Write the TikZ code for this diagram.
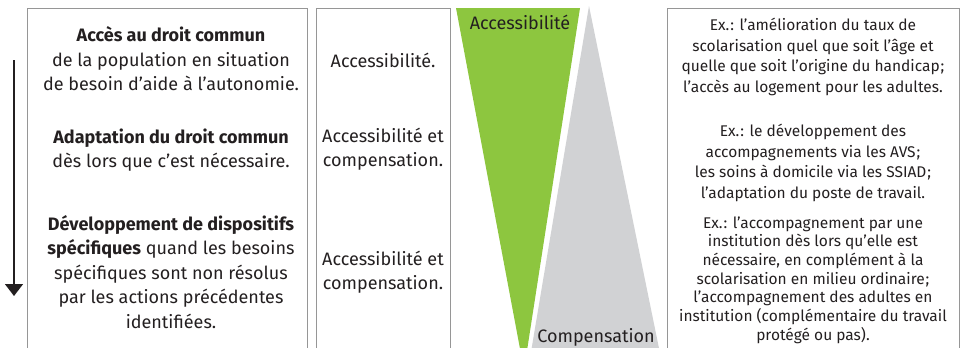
\documentclass[tikz,border=0pt]{standalone}
\usepackage{fontspec}
\setmainfont{Fira Sans}
\usetikzlibrary{arrows.meta}
\definecolor{accgreen}{RGB}{141,198,63}
\definecolor{compgray}{RGB}{209,210,212}
\definecolor{framegray}{RGB}{150,150,150}
\definecolor{inkgray}{RGB}{35,31,32}

\begin{document}
\begin{tikzpicture}[x=1pt,y=-1pt]
		  \tikzset{
			frame/.style={draw=framegray,line width=0.8pt},
			bigtext/.style={text=inkgray,align=center,inner sep=0pt,
			  font=\fontsize{18}{24.5}\selectfont},
			smalltext/.style={text=inkgray,align=center,inner sep=0pt,
			  font=\fontsize{15.5}{20.8}\selectfont},
			flow/.style={draw=inkgray,line width=1.5pt,-{Triangle[width=18pt,length=12pt]}},
		  }
		  \useasboundingbox (0,0) rectangle (962,348);
		  %FRAMES
		  \draw[frame] (27,348) -- (27,8) -- (307,8) -- (307,348);
		  \draw[frame] (316,348) -- (316,8) -- (450,8) -- (450,348);
		  \draw[frame] (667,348) -- (667,8) -- (959,8) -- (959,348);
		  %ARROW
		  \coordinate (top) at (14,60);
		  \coordinate (bot) at (14,296);
		  \draw[flow] (top) -- (bot);
		  %TRIANGLE GREEN
		  \fill[accgreen] (456,8) -- (580,8) -- (524,370) -- cycle;
		  \node[bigtext] (acc) at (520,22) {Accessibilité};
		  %TRIANGLE GREY
		  \fill[compgray] (589,6) -- (661,358) -- (530,358) -- cycle;
		  \node[bigtext] (comp) at (596,337) {Compensation};
		  %LEFT COLUMN
		  \node[bigtext] (l1) at (171,59) {\textbf{Accès au droit commun}\\de la population en situation\\de besoin d’aide à l’autonomie.};
		  \node[bigtext] (l2) at (171,150) {\textbf{Adaptation du droit commun}\\dès lors que c’est nécessaire.};
		  \node[bigtext] (l3) at (171,272) {\textbf{Développement de dispositifs}\\\textbf{spécifiques} quand les besoins\\spécifiques sont non résolus\\par les actions précédentes\\identifiées.};
		  %MIDDLE COLUMN
		  \node[bigtext] (m1) at (383,60) {Accessibilité.};
		  \node[bigtext] (m2) at (383,149) {Accessibilité et\\compensation.};
		  \node[bigtext] (m3) at (383,272) {Accessibilité et\\compensation.};
		  %RIGHT COLUMN
		  \node[smalltext] (r1) at (813,57) {Ex.\kern1pt: l’amélioration du taux de\\scolarisation quel que soit l’âge et\\quelle que soit l’origine du handicap\kern1pt;\\l’accès au logement pour les adultes.};
		  \node[smalltext] (r2) at (813,163) {Ex.\kern1pt: le développement des\\accompagnements via les AVS\kern1pt;\\les soins à domicile via les SSIAD\kern1pt;\\l’adaptation du poste de travail.};
		  \node[smalltext,font=\fontsize{15.5}{18.7}\selectfont] (r3) at (813,280) {Ex.\kern1pt: l’accompagnement par une\\institution dès lors qu’elle est\\nécessaire, en complément à la\\scolarisation en milieu ordinaire\kern1pt;\\l’accompagnement des adultes en\\institution (complémentaire du travail\\protégé ou pas).};
\end{tikzpicture}
\end{document}
